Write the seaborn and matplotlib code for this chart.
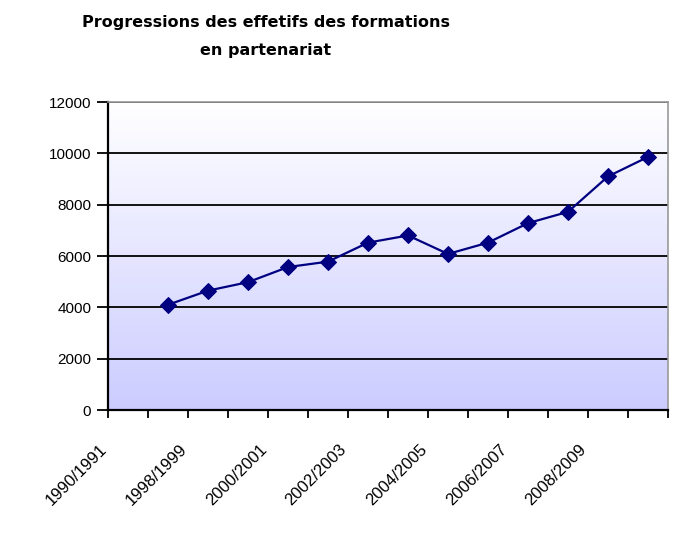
import numpy as np
import pandas as pd
import matplotlib
matplotlib.use('Agg')
import matplotlib.pyplot as plt
from matplotlib.colors import LinearSegmentedColormap
from matplotlib.transforms import ScaledTranslation
import seaborn as sns

# Data (first season has no value)
seasons = ['1990/1991', '1997/1998', '1998/1999', '1999/2000', '2000/2001',
           '2001/2002', '2002/2003', '2003/2004', '2004/2005', '2005/2006',
           '2006/2007', '2007/2008', '2008/2009', '2009/2010']
effectifs = [np.nan, 4100, 4650, 4980, 5570, 5780, 6520, 6800, 6080,
             6520, 7280, 7720, 9100, 9860]

df = pd.DataFrame({'pos': np.arange(len(seasons)), 'saison': seasons,
                   'effectif': effectifs})

sns.set_theme(style='white')
plt.rcParams['font.family'] = ['Liberation Sans', 'DejaVu Sans']
plt.rcParams['text.color'] = 'black'
plt.rcParams['xtick.color'] = 'black'
plt.rcParams['ytick.color'] = 'black'

fig = plt.figure(figsize=(6.77, 5.34), dpi=100)
ax = fig.add_axes([108 / 677, 1 - 410 / 534, 560 / 677, 308 / 534])

# Gradient background: white at top to lavender at bottom
cmap = LinearSegmentedColormap.from_list('bg', ['#CCCCFF', '#FFFFFF'])
grad = np.linspace(0, 1, 256).reshape(-1, 1)
ax.imshow(grad, cmap=cmap, aspect='auto', origin='lower',
          extent=[0, 1, 0, 1], transform=ax.transAxes, zorder=0)

sns.lineplot(data=df, x='pos', y='effectif', ax=ax, color='#000080',
             marker='D', markersize=8, markeredgecolor='#000080',
             linewidth=1.6, zorder=3)

ax.set_xlim(-0.5, len(seasons) - 0.5)
ax.set_ylim(0, 12000)
ax.set_yticks(range(0, 12001, 2000))
ax.yaxis.grid(True, color='black', linewidth=1.3)
ax.set_axisbelow(True)

# Excel-style ticks at category boundaries, labels every second category
ax.set_xticks(np.arange(-0.5, len(seasons), 1.0))
ax.set_xticklabels([])
ax.set_xticks(np.arange(0, len(seasons), 2), minor=True)
ax.set_xticklabels(seasons[::2], minor=True, rotation=45, ha='right',
                   rotation_mode='anchor', fontsize=12)
ax.tick_params(axis='x', which='major', direction='out', length=6,
               width=1.3, color='black', bottom=True)
ax.tick_params(axis='x', which='minor', length=0, pad=14)
ax.tick_params(axis='y', direction='out', length=8, width=1.3,
               color='black', left=True, labelsize=11, pad=4)

# shift rotated labels like Excel does (after tick_params, which resets them)
shift = ScaledTranslation(-29 / 100, -12 / 100, fig.dpi_scale_trans)
for lab in ax.get_xticklabels(minor=True):
    lab.set_transform(lab.get_transform() + shift)

ax.set_xlabel('')
ax.set_ylabel('')

for side in ['top', 'right']:
    ax.spines[side].set_color('#999999')
    ax.spines[side].set_linewidth(1.2)
for side in ['left', 'bottom']:
    ax.spines[side].set_color('black')
    ax.spines[side].set_linewidth(1.6)

title_font = dict(ha='center', va='center', fontsize=11.5, fontweight='bold',
                  family=['DejaVu Sans'], color='black')
fig.text(266 / 677, 1 - 23 / 534,
         'Progressions des effetifs des formations', **title_font)
fig.text(266 / 677, 1 - 50 / 534, 'en partenariat', **title_font)

fig.savefig('out.png', dpi=100)
